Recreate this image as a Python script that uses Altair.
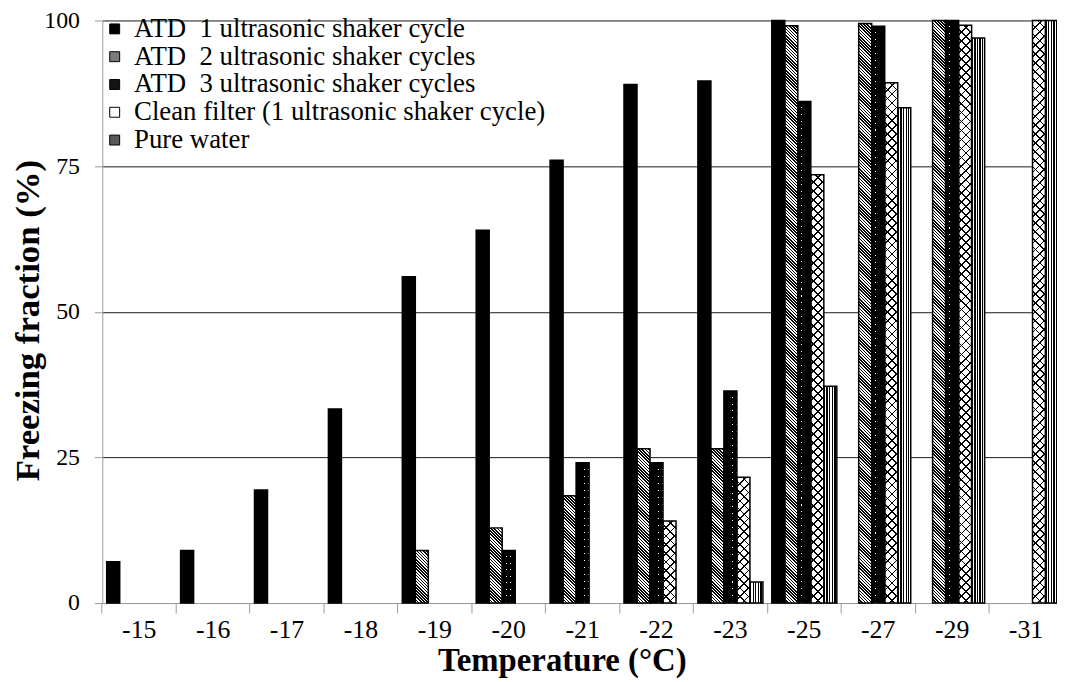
import altair as alt
import pandas as pd

# ---------------- data ----------------
temps = ["-15", "-16", "-17", "-18", "-19", "-20", "-21", "-22", "-23", "-25", "-27", "-29", "-31"]
series_names = [
    "ATD\u00a0 1 ultrasonic shaker cycle",
    "ATD\u00a0 2 ultrasonic shaker cycles",
    "ATD\u00a0 3 ultrasonic shaker cycles",
    "Clean filter (1 ultrasonic shaker cycle)",
    "Pure water",
]
atd1 = [7.1, 9.0, 19.4, 33.3, 56.0, 64.0, 76.0, 89.0, 89.6, 100.0, None, None, None]
atd2 = [None, None, None, None, 9.0, 12.9, 18.4, 26.5, 26.5, 99.1, 99.5, 100.0, None]
atd3 = [None, None, None, None, None, 9.0, 24.1, 24.1, 36.4, 86.1, 99.0, 100.0, None]
clean = [None, None, None, None, None, None, None, 14.1, 21.6, 73.5, 89.3, 99.2, 100.0]
pure = [None, None, None, None, None, None, None, None, 3.6, 37.2, 85.0, 97.0, 100.0]
y_ticks = [0, 25, 50, 75, 100]
legend_colors = ["#000000", "#7a7a7a", "#141414", "#ffffff", "#5a5a5a"]

all_series = [atd1, atd2, atd3, clean, pure]
rows = []
for name, vals in zip(series_names, all_series):
    for t, v in zip(temps, vals):
        if v is not None:
            rows.append({"t": t, "s": name, "v": v})
df = pd.DataFrame(rows)

# ---------------- layout / style ----------------
SERIF = "Liberation Serif"
PLOT_W, PLOT_H = 962, 587
X_SPAN = 968          # the category axis runs slightly past the visible edge, as in the reference
OUTER = 0.34
BAND = X_SPAN / len(temps)
BAR_W = BAND / (len(series_names) + 2 * OUTER)
CLEAR = "rgba(0,0,0,0)"


def _stops(n, frac, dark, light):
    out = []
    for i in range(n):
        a = round(i / n, 5)
        b = round((i + frac) / n, 5)
        c = round((i + 1) / n, 5)
        out += [
            {"offset": a, "color": dark},
            {"offset": b, "color": dark},
            {"offset": b, "color": light},
            {"offset": c, "color": light},
        ]
    return out


def diag_back(h, period, frac, dark, light):
    # "\" lines, constant angle whatever the bar height
    w = BAR_W
    k = (w + h) / (w * w + h * h)
    n = max(1, round((w + h) / period))
    return {"gradient": "linear", "x1": 0, "y1": 1, "x2": round(k * w, 6),
            "y2": round(1 - k * h, 6), "stops": _stops(n, frac, dark, light)}


def diag_fwd(h, period, frac, dark, light):
    # "/" lines
    w = BAR_W
    k = (w + h) / (w * w + h * h)
    n = max(1, round((w + h) / period))
    return {"gradient": "linear", "x1": 0, "y1": 0, "x2": round(k * w, 6),
            "y2": round(k * h, 6), "stops": _stops(n, frac, dark, light)}


def vert(n, frac, dark, light):
    return {"gradient": "linear", "x1": 0, "y1": 0, "x2": 1, "y2": 0,
            "stops": _stops(n, frac, dark, light)}


def horiz(h, period, frac, dark, light):
    n = max(1, round(h / period))
    return {"gradient": "linear", "x1": 0, "y1": 0, "x2": 0, "y2": 1,
            "stops": _stops(n, frac, dark, light)}


x_axis = alt.Axis(
    title="Temperature (°C)", bandPosition=0, labelAngle=0,
    labelFont=SERIF, labelFontSize=26, labelColor="black", labelPadding=25,
    labelBaseline="alphabetic", labelOverlap=False,
    ticks=True, tickSize=10, tickColor="#9a9a9a", tickWidth=1,
    domainColor="#9a9a9a", domainWidth=1, grid=False,
    titleFont=SERIF, titleFontSize=33, titleFontWeight="bold", titleColor="black",
    titleX=463, titleY=68, titleBaseline="alphabetic", titleAlign="center",
)
y_axis = alt.Axis(
    values=y_ticks, title="Freezing fraction (%)", grid=True,
    gridColor=alt.condition("datum.value === 0", alt.value("#9a9a9a"), alt.value("#1a1a1a")),
    gridWidth=1, domainColor="#9a9a9a", domainWidth=1, tickColor="#9a9a9a", tickSize=8,
    labelFont=SERIF, labelFontSize=24, labelColor="black", labelPadding=15,
    titleFont=SERIF, titleFontSize=35, titleFontWeight="bold", titleColor="black",
    titleX=-75, titleY=302, titleAngle=270, titleBaseline="middle", titleAlign="center",
)

base = alt.Chart(df).encode(
    x=alt.X("t:N", sort=temps,
            scale=alt.Scale(domain=temps, range=[0, X_SPAN], paddingInner=0, paddingOuter=0),
            axis=x_axis),
    xOffset=alt.XOffset("s:N", sort=series_names,
                        scale=alt.Scale(domain=series_names, paddingInner=0, paddingOuter=OUTER)),
    y=alt.Y("v:Q", scale=alt.Scale(domain=[0, 100], nice=False), axis=y_axis),
)

legend = alt.Legend(
    title=None, orient="none", legendX=-1, legendY=-5, direction="vertical",
    symbolType="square", symbolSize=100, symbolStrokeColor="black", symbolStrokeWidth=1,
    symbolOpacity=1, labelFont=SERIF, labelFontSize=27, labelColor="black",
    labelOffset=6, rowPadding=0, labelLimit=700, padding=0,
)

base_layer = base.mark_bar().encode(
    fill=alt.Fill("s:N", sort=series_names,
                  scale=alt.Scale(domain=series_names, range=legend_colors), legend=legend)
)


def pattern_layer(idx, maker, default="white"):
    name = series_names[idx]
    conds = [{"test": "datum.t === '%s'" % t, "value": maker(v / 100 * PLOT_H)}
             for t, v in zip(temps, all_series[idx]) if v is not None]
    return base.transform_filter(alt.datum.s == name).mark_bar().encode(
        fill=alt.FillValue(value=default, condition=conds)
    )


layers = [
    base_layer,
    pattern_layer(1, lambda h: diag_back(h, 3.2, 0.5, "black", "white")),
    pattern_layer(2, lambda h: horiz(h, 7.0, 0.85, "black", "white")),
    pattern_layer(2, lambda h: vert(3, 0.85, "black", CLEAR), default=CLEAR),
    pattern_layer(3, lambda h: diag_back(h, 9.0, 0.18, "black", "white")),
    pattern_layer(3, lambda h: diag_fwd(h, 9.0, 0.18, "black", CLEAR), default=CLEAR),
    pattern_layer(4, lambda h: vert(5, 0.5, "black", "white")),
    base.mark_bar(fillOpacity=0, stroke="black", strokeWidth=1.5),
]

chart = alt.layer(*layers).properties(
    width=PLOT_W, height=PLOT_H,
    padding={"left": 95, "top": 10, "right": 0, "bottom": 76},
    autosize=alt.AutoSizeParams(type="none"),
    background="white",
).configure_view(strokeWidth=0)

chart.save("out.html", embed_options={"renderer": "svg", "actions": False})
